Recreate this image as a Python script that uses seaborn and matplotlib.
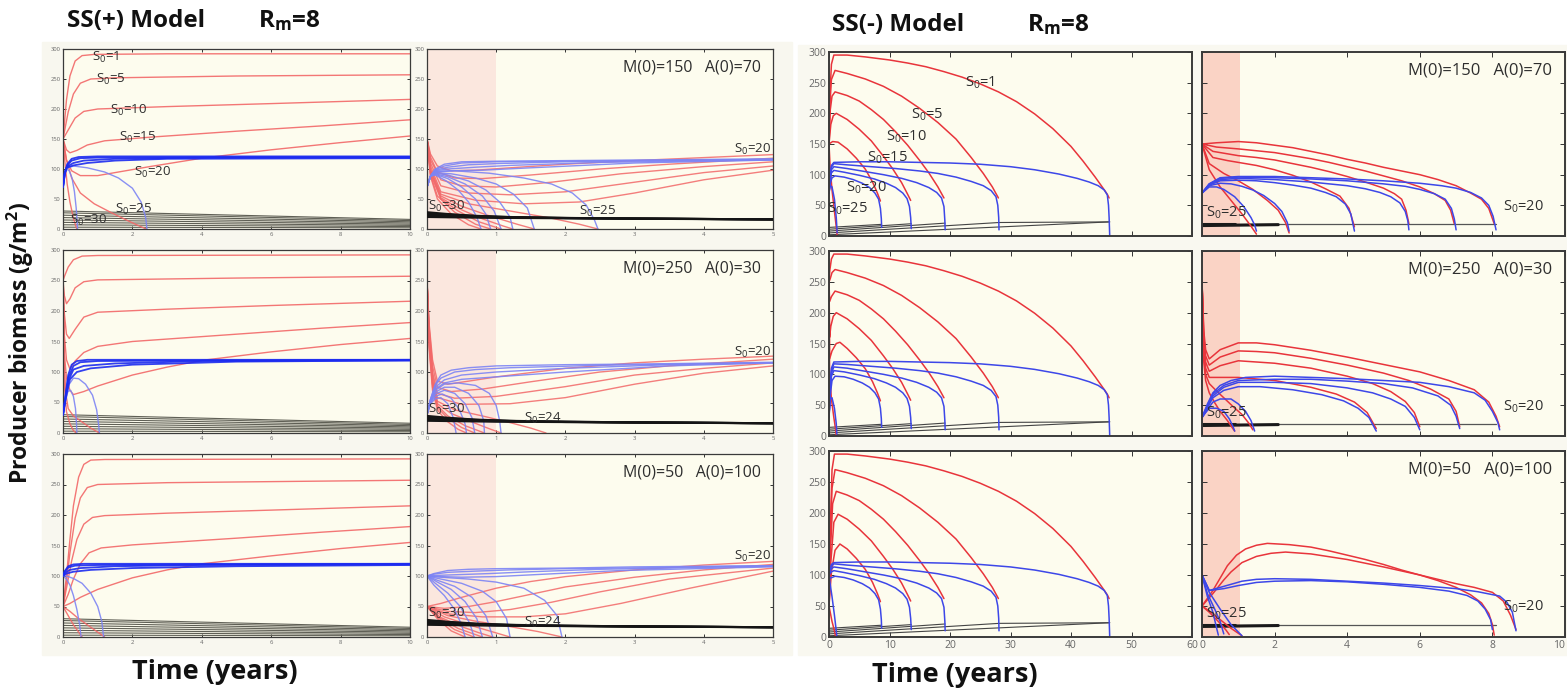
import matplotlib
matplotlib.use("Agg")
import matplotlib.pyplot as plt
from matplotlib.patches import Rectangle
import seaborn as sns
import pandas as pd

# ---------------------------------------------------------------------------
# Trajectories: each run is a list of (time in years, biomass in g/m^2)
# ---------------------------------------------------------------------------

# SS(+) model, M(0)=150, A(0)=70, 10-year view
plus_a_long_red = [
    [(0, 150), (0.1, 215), (0.2, 255), (0.35, 280), (0.55, 289), (0.9, 291), (3, 292), (10, 292)],
    [(0, 150), (0.15, 195), (0.3, 225), (0.5, 243), (0.8, 250), (1.5, 252), (5, 255), (10, 257)],
    [(0, 150), (0.15, 165), (0.35, 185), (0.6, 196), (1, 200), (3, 204), (6, 209), (10, 216)],
    [(0, 150), (0.1, 132), (0.2, 127), (0.4, 131), (0.7, 140), (1.2, 147), (2.5, 153), (5, 163), (7.5, 172), (10, 182)],
    [(0, 150), (0.1, 115), (0.25, 97), (0.5, 89), (1, 89), (1.5, 94), (2.5, 104), (4, 118), (6, 132), (8, 144), (10, 155)],
    [(0, 150), (0.1, 115), (0.25, 85), (0.5, 60), (0.9, 42), (1.4, 27), (1.9, 13), (2.2, 5), (2.4, 0)],
    [(0, 150), (0.05, 115), (0.12, 75), (0.2, 45), (0.3, 18), (0.38, 3), (0.4, 0)],
]
plus_a_long_blue_flat = [
    [(0, 70), (0.05, 90), (0.12, 108), (0.25, 117), (0.45, 120), (1, 121), (10, 121)],
    [(0, 70), (0.05, 92), (0.12, 106), (0.25, 114), (0.5, 118), (1, 119), (10, 120)],
    [(0, 70), (0.05, 93), (0.12, 104), (0.3, 110), (0.6, 114), (1.5, 117), (4, 119), (10, 119)],
    [(0, 70), (0.05, 95), (0.1, 102), (0.3, 106), (0.7, 110), (1.5, 114), (3, 117), (10, 118)],
]
plus_a_long_blue_fall = [
    [(0, 70), (0.05, 95), (0.1, 101), (0.3, 105), (0.7, 102), (1.2, 95), (1.6, 85), (2, 68), (2.25, 45), (2.38, 20), (2.42, 0)],
    [(0, 70), (0.05, 92), (0.1, 100), (0.18, 97), (0.26, 85), (0.33, 62), (0.38, 35), (0.41, 10), (0.42, 0)],
]

# SS(+) model, M(0)=150, A(0)=70, 5-year view
plus_a_short_red = [
    [(0, 150), (0.05, 125), (0.15, 105), (0.35, 97), (0.7, 98), (1.2, 102), (2, 108), (3, 114), (4, 119), (5, 124)],
    [(0, 150), (0.05, 120), (0.15, 95), (0.4, 85), (0.8, 84), (1.5, 90), (2.5, 100), (3.5, 108), (5, 118)],
    [(0, 150), (0.05, 115), (0.2, 82), (0.5, 72), (1, 70), (1.8, 78), (2.8, 92), (4, 104), (5, 112)],
    [(0, 150), (0.05, 110), (0.2, 72), (0.6, 60), (1.2, 57), (2, 62), (3, 78), (4, 94), (5, 105)],
    [(0, 150), (0.05, 105), (0.2, 62), (0.7, 48), (1.4, 42), (2.2, 45), (3, 60), (4, 82), (5, 98)],
    [(0, 150), (0.05, 100), (0.2, 58), (0.6, 42), (1.2, 30), (1.8, 18), (2.2, 8), (2.47, 0)],
    [(0, 150), (0.05, 98), (0.2, 55), (0.5, 38), (0.9, 22), (1.3, 8), (1.55, 0)],
    [(0, 150), (0.05, 95), (0.2, 52), (0.5, 32), (0.8, 17), (1.1, 5), (1.24, 0)],
    [(0, 150), (0.05, 92), (0.2, 50), (0.45, 30), (0.75, 12), (1.07, 0)],
    [(0, 150), (0.05, 90), (0.15, 55), (0.4, 28), (0.7, 8), (0.92, 0)],
    [(0, 150), (0.05, 88), (0.15, 50), (0.35, 25), (0.6, 7), (0.78, 0)],
]
plus_a_short_blue = [
    [(0, 70), (0.05, 88), (0.12, 100), (0.25, 108), (0.5, 112), (1, 113), (2, 114), (3, 115), (5, 117)],
    [(0, 70), (0.05, 88), (0.12, 99), (0.25, 105), (0.5, 110), (1, 112), (2, 113), (5, 116)],
    [(0, 70), (0.05, 88), (0.12, 98), (0.3, 103), (0.6, 107), (1, 109), (2, 112), (5, 116)],
    [(0, 70), (0.05, 88), (0.12, 97), (0.3, 100), (0.7, 103), (1.2, 106), (2.5, 111), (5, 115)],
    [(0, 70), (0.05, 88), (0.12, 96), (0.3, 97), (0.8, 98), (1.5, 102), (3, 110), (5, 115)],
    [(0, 70), (0.05, 88), (0.12, 95), (0.4, 97), (0.9, 93), (1.4, 85), (1.8, 75), (2.1, 60), (2.3, 40), (2.42, 15), (2.47, 0)],
    [(0, 70), (0.05, 88), (0.12, 94), (0.35, 92), (0.7, 85), (1.0, 75), (1.25, 58), (1.45, 35), (1.55, 0)],
    [(0, 70), (0.05, 88), (0.12, 93), (0.3, 90), (0.6, 80), (0.85, 65), (1.05, 45), (1.2, 20), (1.24, 0)],
    [(0, 70), (0.05, 88), (0.12, 92), (0.3, 87), (0.55, 75), (0.8, 55), (0.97, 30), (1.07, 0)],
    [(0, 70), (0.05, 88), (0.12, 91), (0.3, 84), (0.5, 70), (0.7, 50), (0.85, 25), (0.92, 0)],
    [(0, 70), (0.05, 88), (0.12, 90), (0.28, 80), (0.45, 65), (0.6, 45), (0.72, 20), (0.78, 0)],
]

# SS(+) model, M(0)=250, A(0)=30
plus_b_long_red = [
    [(0, 250), (0.05, 258), (0.15, 272), (0.3, 284), (0.55, 290), (1, 291), (10, 292)],
    [(0, 250), (0.04, 225), (0.1, 212), (0.2, 220), (0.35, 238), (0.6, 248), (1, 251), (5, 254), (10, 257)],
    [(0, 250), (0.04, 195), (0.1, 162), (0.18, 155), (0.35, 170), (0.6, 190), (1, 198), (3, 203), (6, 209), (10, 216)],
    [(0, 250), (0.04, 160), (0.1, 120), (0.2, 105), (0.35, 118), (0.6, 132), (1, 142), (2, 150), (5, 162), (7.5, 172), (10, 181)],
    [(0, 250), (0.04, 130), (0.1, 90), (0.2, 70), (0.3, 63), (0.6, 68), (1, 77), (2, 95), (3, 108), (4, 119), (6, 133), (8, 145), (10, 155)],
    [(0, 250), (0.03, 120), (0.08, 65), (0.15, 40), (0.3, 28), (0.55, 18), (0.8, 8), (1.05, 0)],
    [(0, 250), (0.02, 130), (0.05, 70), (0.1, 35), (0.2, 15), (0.3, 4), (0.38, 0)],
]
plus_b_long_blue_flat = [
    [(0, 30), (0.08, 65), (0.15, 95), (0.25, 112), (0.4, 118), (0.7, 120), (10, 120)],
    [(0, 30), (0.08, 62), (0.15, 90), (0.3, 110), (0.5, 116), (1, 118), (10, 120)],
    [(0, 30), (0.08, 60), (0.15, 85), (0.3, 104), (0.6, 110), (1.5, 114), (4, 118), (10, 119)],
    [(0, 30), (0.08, 58), (0.2, 88), (0.4, 100), (0.8, 106), (2, 112), (5, 117), (10, 119)],
]
plus_b_long_blue_fall = [
    [(0, 30), (0.08, 55), (0.18, 80), (0.3, 90), (0.45, 89), (0.65, 80), (0.85, 62), (0.97, 38), (1.03, 12), (1.05, 0)],
    [(0, 30), (0.06, 50), (0.14, 68), (0.22, 70), (0.3, 60), (0.36, 40), (0.39, 15), (0.4, 0)],
]
plus_b_short_red = [
    [(0, 250), (0.03, 180), (0.08, 120), (0.15, 85), (0.3, 80), (0.6, 85), (1, 92), (2, 106), (3, 115), (4, 121), (5, 126)],
    [(0, 250), (0.03, 175), (0.08, 110), (0.15, 75), (0.35, 68), (0.8, 72), (1.5, 84), (2.5, 100), (3.5, 110), (5, 121)],
    [(0, 250), (0.03, 170), (0.08, 100), (0.15, 65), (0.4, 57), (1, 60), (2, 76), (3, 95), (4, 106), (5, 115)],
    [(0, 250), (0.03, 165), (0.08, 95), (0.15, 58), (0.5, 47), (1.2, 48), (2, 58), (3, 80), (4, 98), (5, 110)],
    [(0, 250), (0.03, 160), (0.08, 88), (0.15, 52), (0.4, 38), (0.8, 28), (1.2, 17), (1.5, 8), (1.72, 0)],
    [(0, 250), (0.03, 155), (0.08, 85), (0.15, 48), (0.35, 32), (0.65, 18), (0.9, 7), (1.07, 0)],
    [(0, 250), (0.03, 150), (0.08, 80), (0.15, 45), (0.3, 28), (0.55, 12), (0.83, 0)],
    [(0, 250), (0.03, 145), (0.08, 75), (0.15, 42), (0.3, 24), (0.5, 9), (0.69, 0)],
    [(0, 250), (0.03, 140), (0.08, 70), (0.15, 38), (0.28, 20), (0.45, 6), (0.57, 0)],
]
plus_b_short_blue = [
    [(0, 30), (0.05, 55), (0.12, 80), (0.2, 95), (0.35, 103), (0.6, 107), (1, 110), (2, 112), (3, 113), (5, 116)],
    [(0, 30), (0.05, 55), (0.12, 78), (0.2, 90), (0.4, 100), (0.7, 104), (1.2, 107), (2.5, 111), (5, 115)],
    [(0, 30), (0.05, 54), (0.12, 75), (0.25, 87), (0.5, 95), (1, 100), (2, 106), (3.5, 112), (5, 115)],
    [(0, 30), (0.05, 53), (0.12, 72), (0.25, 82), (0.5, 88), (1, 92), (2, 100), (3.5, 110), (5, 115)],
    [(0, 30), (0.05, 52), (0.12, 70), (0.25, 80), (0.45, 82), (0.7, 78), (0.9, 65), (1.0, 45), (1.05, 20), (1.07, 0)],
    [(0, 30), (0.05, 51), (0.12, 67), (0.25, 75), (0.4, 75), (0.6, 65), (0.75, 45), (0.82, 20), (0.83, 0)],
    [(0, 30), (0.05, 50), (0.12, 64), (0.25, 70), (0.4, 65), (0.55, 48), (0.65, 25), (0.69, 0)],
    [(0, 30), (0.05, 49), (0.12, 60), (0.22, 64), (0.35, 57), (0.47, 38), (0.55, 15), (0.57, 0)],
    [(0, 30), (0.05, 48), (0.12, 56), (0.2, 58), (0.3, 48), (0.38, 25), (0.42, 0)],
]

# SS(+) model, M(0)=50, A(0)=100
plus_c_long_red = [
    [(0, 50), (0.1, 100), (0.2, 160), (0.3, 215), (0.45, 262), (0.6, 283), (0.8, 290), (1.2, 291), (10, 292)],
    [(0, 50), (0.1, 90), (0.2, 138), (0.35, 195), (0.5, 228), (0.7, 245), (1, 250), (3, 253), (10, 257)],
    [(0, 50), (0.1, 80), (0.25, 125), (0.4, 160), (0.6, 185), (0.85, 196), (1.2, 199), (3, 203), (6, 208), (10, 215)],
    [(0, 50), (0.15, 70), (0.3, 95), (0.5, 120), (0.75, 138), (1.1, 146), (2, 151), (5, 162), (7.5, 172), (10, 181)],
    [(0, 50), (0.2, 55), (0.5, 65), (1, 78), (2, 97), (3, 110), (4, 120), (6, 133), (8, 145), (10, 155)],
    [(0, 50), (0.2, 42), (0.45, 30), (0.75, 18), (1.0, 8), (1.2, 0)],
    [(0, 50), (0.15, 35), (0.3, 20), (0.45, 8), (0.55, 0)],
]
plus_c_long_blue_flat = [
    [(0, 100), (0.05, 108), (0.15, 116), (0.3, 119), (0.6, 120), (10, 120)],
    [(0, 100), (0.05, 107), (0.15, 114), (0.35, 117), (1, 118), (10, 120)],
    [(0, 100), (0.08, 106), (0.2, 110), (0.5, 113), (1.5, 116), (4, 118), (10, 119)],
    [(0, 100), (0.1, 104), (0.3, 107), (0.8, 110), (2, 113), (5, 116), (10, 118)],
]
plus_c_long_blue_fall = [
    [(0, 100), (0.1, 100), (0.3, 96), (0.55, 88), (0.8, 72), (1.0, 50), (1.12, 25), (1.17, 0)],
    [(0, 100), (0.1, 95), (0.2, 85), (0.3, 68), (0.4, 45), (0.48, 20), (0.52, 0)],
]
plus_c_short_red = [
    [(0, 50), (0.2, 55), (0.5, 65), (1, 80), (1.5, 91), (2, 99), (3, 110), (4, 118), (5, 124)],
    [(0, 50), (0.25, 47), (0.6, 50), (1, 58), (1.5, 70), (2, 82), (3, 98), (4, 110), (5, 119)],
    [(0, 50), (0.3, 42), (0.7, 40), (1.2, 45), (1.8, 57), (2.5, 74), (3.5, 95), (5, 113)],
    [(0, 50), (0.3, 38), (0.8, 33), (1.4, 33), (2, 38), (2.8, 55), (3.8, 80), (5, 108)],
    [(0, 50), (0.3, 35), (0.7, 26), (1.2, 17), (1.6, 9), (1.95, 0)],
    [(0, 50), (0.25, 33), (0.6, 20), (0.9, 10), (1.2, 0)],
    [(0, 50), (0.2, 32), (0.5, 17), (0.75, 7), (0.95, 0)],
    [(0, 50), (0.2, 30), (0.45, 14), (0.8, 0)],
    [(0, 50), (0.15, 32), (0.4, 12), (0.68, 0)],
    [(0, 50), (0.15, 30), (0.35, 10), (0.55, 0)],
]
plus_c_short_blue = [
    [(0, 100), (0.1, 104), (0.3, 109), (0.6, 111), (1, 112), (2, 113), (3, 115), (5, 117)],
    [(0, 100), (0.1, 103), (0.3, 106), (0.7, 108), (1.2, 110), (2, 112), (3.5, 114), (5, 117)],
    [(0, 100), (0.15, 101), (0.4, 102), (0.9, 104), (1.5, 107), (2.5, 111), (5, 116)],
    [(0, 100), (0.2, 99), (0.5, 98), (1, 99), (1.7, 103), (2.8, 109), (5, 115)],
    [(0, 100), (0.2, 98), (0.6, 95), (1, 90), (1.4, 80), (1.7, 60), (1.88, 35), (1.95, 0)],
    [(0, 100), (0.2, 95), (0.5, 88), (0.8, 75), (1.0, 58), (1.15, 30), (1.2, 0)],
    [(0, 100), (0.15, 93), (0.4, 83), (0.65, 65), (0.85, 35), (0.95, 0)],
    [(0, 100), (0.15, 90), (0.35, 78), (0.55, 58), (0.72, 30), (0.8, 0)],
    [(0, 100), (0.12, 88), (0.3, 72), (0.48, 50), (0.62, 22), (0.68, 0)],
    [(0, 100), (0.1, 85), (0.25, 68), (0.4, 45), (0.5, 20), (0.55, 0)],
]

# Bottom tracks of the SS(+) runs
plus_long_black = [
    [(0, 30), (10, 16)], [(0, 27), (10, 14)], [(0, 23), (10, 12)], [(0, 19), (10, 10)],
    [(0, 15), (10, 8)], [(0, 11), (10, 6)], [(0, 7), (10, 4)], [(0, 3), (10, 2)],
]
plus_short_black = [
    [(0, 28), (0.3, 25), (0.7, 22), (1.2, 20), (2, 18.5), (3, 17.5), (5, 16)],
    [(0, 26), (0.3, 24), (0.8, 21), (1.5, 19), (3, 17), (5, 16)],
    [(0, 24), (0.4, 22), (1, 20), (2, 18), (5, 16)],
    [(0, 22), (0.5, 20.5), (1.2, 19), (5, 16)],
    [(0, 20), (1, 18.5), (5, 16)],
]

# SS(-) model, M(0)=150, A(0)=70, 60-year view
minus_a_long_red = [
    [(0, 150), (0.15, 230), (0.4, 280), (0.8, 295), (3, 295), (6, 292), (10, 287), (13, 282), (16, 276), (19, 268), (22, 259),
     (25, 248), (28, 235), (31, 219), (34, 199), (37, 175), (40, 146), (42, 122), (44, 96), (45.3, 78), (46, 68), (46.3, 62)],
    [(0, 150), (0.15, 215), (0.4, 255), (1, 270), (3, 265), (6, 256), (9, 244), (12, 228), (15, 208), (18, 185), (21, 158),
     (23.5, 128), (25.5, 102), (27, 80), (28, 62)],
    [(0, 150), (0.2, 205), (0.5, 228), (1, 235), (3, 229), (5, 220), (7, 206), (9, 190), (11, 170), (13, 148), (15, 123),
     (16.5, 103), (18, 80), (19, 62)],
    [(0, 150), (0.3, 182), (0.7, 196), (1.2, 200), (3, 190), (5, 174), (7, 155), (9, 130), (10.5, 110), (12, 87), (13, 68), (13.5, 58)],
    [(0, 150), (0.6, 154), (1.5, 153), (3, 142), (4.5, 127), (6, 109), (7.2, 88), (8, 70), (8.5, 57)],
    [(0, 150), (0.2, 110), (0.5, 75), (0.9, 40), (1.2, 15), (1.35, 0)],
]
minus_a_long_blue = [
    [(0, 70), (0.15, 95), (0.4, 115), (0.8, 120), (5, 121), (10, 121), (15, 120), (20, 119), (25, 117), (30, 113), (34, 108),
     (38, 101), (41, 94), (43, 88), (44.5, 82), (45.5, 75), (46, 67), (46.2, 50), (46.3, 30), (46.4, 0)],
    [(0, 70), (0.15, 93), (0.4, 112), (0.8, 118), (3, 116), (7, 113), (11, 110), (15, 106), (18, 102), (21, 96), (23.5, 89),
     (25.5, 82), (26.8, 74), (27.6, 64), (27.9, 50), (28.05, 30), (28.1, 10)],
    [(0, 70), (0.15, 90), (0.4, 108), (0.8, 113), (3, 110), (6, 105), (9, 100), (12, 94), (14.5, 87), (16.5, 79), (17.8, 71),
     (18.6, 62), (19, 48), (19.15, 25), (19.2, 10)],
    [(0, 70), (0.15, 88), (0.4, 103), (0.8, 107), (2.5, 104), (5, 99), (7.5, 93), (9.5, 86), (11, 79), (12.2, 70), (12.9, 61),
     (13.3, 48), (13.5, 30), (13.6, 12)],
    [(0, 70), (0.15, 84), (0.5, 95), (1, 98), (2.5, 96), (4, 92), (5.5, 86), (6.7, 79), (7.6, 70), (8.2, 60), (8.5, 45),
     (8.65, 28), (8.7, 14)],
    [(0, 70), (0.2, 82), (0.5, 80), (0.9, 60), (1.2, 30), (1.35, 5)],
]

# SS(-) model, M(0)=150, A(0)=70, 10-year view
minus_a_short_red = [
    [(0, 150), (0.4, 152), (1, 154), (1.5, 152), (2, 148), (2.5, 144), (3, 138), (3.5, 132), (4, 125), (4.5, 119), (5, 112),
     (5.5, 106), (6, 100), (6.5, 92), (7, 82), (7.4, 70), (7.7, 60), (7.9, 45), (8.05, 20)],
    [(0, 150), (0.4, 145), (1, 142), (1.5, 139), (2, 136), (2.5, 131), (3, 126), (3.5, 120), (4, 113), (4.5, 106), (5, 98),
     (5.5, 90), (6, 80), (6.4, 69), (6.7, 58), (6.85, 42), (6.95, 20)],
    [(0, 150), (0.3, 138), (1, 131), (1.5, 128), (2, 124), (2.5, 118), (3, 112), (3.5, 105), (4, 97), (4.5, 88), (5, 78),
     (5.3, 69), (5.5, 60), (5.62, 42), (5.7, 20)],
    [(0, 150), (0.3, 128), (0.7, 123), (1, 120), (1.5, 115), (2, 108), (2.5, 99), (3, 88), (3.4, 77), (3.8, 65), (4.05, 45), (4.2, 15)],
    [(0, 150), (0.2, 118), (0.6, 102), (1, 90), (1.4, 76), (1.8, 58), (2.1, 42), (2.3, 22), (2.4, 5)],
    [(0, 150), (0.2, 108), (0.5, 80), (0.8, 58), (1.1, 36), (1.35, 16), (1.5, 3)],
]
minus_a_short_blue = [
    [(0, 70), (0.2, 85), (0.5, 95), (1, 97), (2, 97), (3, 95), (4, 93), (5, 90), (6, 86), (6.6, 82), (7, 78), (7.4, 71),
     (7.7, 62), (7.9, 50), (8.02, 32), (8.1, 10)],
    [(0, 70), (0.2, 85), (0.5, 94), (1, 96), (2, 95), (3, 93), (4, 90), (5, 85), (5.6, 81), (6, 76), (6.4, 69), (6.7, 60),
     (6.87, 45), (6.95, 28), (7, 10)],
    [(0, 70), (0.2, 84), (0.5, 92), (1, 94), (2, 92), (3, 88), (4, 82), (4.5, 77), (4.9, 71), (5.2, 64), (5.45, 54),
     (5.6, 40), (5.67, 25), (5.7, 10)],
    [(0, 70), (0.2, 83), (0.5, 90), (1, 91), (1.5, 90), (2, 87), (2.5, 83), (3, 78), (3.4, 71), (3.7, 64), (3.95, 52),
     (4.1, 36), (4.2, 8)],
    [(0, 70), (0.2, 82), (0.5, 86), (0.8, 85), (1.1, 81), (1.4, 75), (1.7, 66), (2, 53), (2.2, 40), (2.35, 22), (2.4, 8)],
    [(0, 70), (0.2, 80), (0.4, 80), (0.6, 76), (0.9, 64), (1.15, 48), (1.35, 30), (1.45, 18), (1.5, 8)],
]

# SS(-) model, M(0)=250, A(0)=30
minus_b_long_red = [
    [(0, 250), (0.15, 270), (0.4, 287), (0.8, 295), (3, 295), (6, 292), (10, 287), (13, 282), (16, 276), (19, 268), (22, 259),
     (25, 248), (28, 235), (31, 219), (34, 199), (37, 175), (40, 146), (42, 122), (44, 96), (45.3, 78), (46, 68), (46.3, 62)],
    [(0, 250), (0.2, 255), (0.5, 265), (1, 270), (3, 265), (6, 256), (9, 244), (12, 228), (15, 208), (18, 185), (21, 158),
     (23.5, 128), (25.5, 102), (27, 80), (28, 62)],
    [(0, 250), (0.1, 218), (0.4, 226), (1, 235), (3, 229), (5, 220), (7, 206), (9, 190), (11, 170), (13, 148), (15, 123),
     (16.5, 103), (18, 80), (19, 62)],
    [(0, 250), (0.1, 160), (0.3, 178), (0.7, 194), (1.2, 200), (3, 190), (5, 174), (7, 155), (9, 130), (10.5, 110), (12, 87),
     (13, 68), (13.5, 58)],
    [(0, 250), (0.1, 125), (0.5, 138), (1.2, 150), (1.8, 152), (3, 142), (4.5, 127), (6, 109), (7.2, 88), (8, 70), (8.5, 57)],
    [(0, 250), (0.1, 100), (0.4, 60), (0.8, 30), (1.1, 10), (1.2, 0)],
]
minus_b_long_blue = [
    [(0, 30), (0.15, 75), (0.4, 110), (0.8, 120), (5, 121), (10, 121), (15, 120), (20, 119), (25, 117), (30, 113), (34, 108),
     (38, 101), (41, 94), (43, 88), (44.5, 82), (45.5, 75), (46, 67), (46.2, 50), (46.3, 30), (46.4, 0)],
    [(0, 30), (0.15, 72), (0.4, 106), (0.8, 117), (3, 116), (7, 113), (11, 110), (15, 106), (18, 102), (21, 96), (23.5, 89),
     (25.5, 82), (26.8, 74), (27.6, 64), (27.9, 50), (28.05, 30), (28.1, 10)],
    [(0, 30), (0.15, 70), (0.4, 102), (0.8, 112), (3, 110), (6, 105), (9, 100), (12, 94), (14.5, 87), (16.5, 79), (17.8, 71),
     (18.6, 62), (19, 48), (19.15, 25), (19.2, 10)],
    [(0, 30), (0.15, 67), (0.4, 97), (0.8, 106), (2.5, 104), (5, 99), (7.5, 93), (9.5, 86), (11, 79), (12.2, 70), (12.9, 61),
     (13.3, 48), (13.5, 30), (13.6, 12)],
    [(0, 30), (0.15, 62), (0.5, 90), (1, 97), (2.5, 96), (4, 92), (5.5, 86), (6.7, 79), (7.6, 70), (8.2, 60), (8.5, 45),
     (8.65, 28), (8.7, 14)],
    [(0, 30), (0.2, 60), (0.5, 62), (0.9, 45), (1.2, 20), (1.3, 3)],
]
minus_b_short_red = [
    [(0, 250), (0.05, 170), (0.1, 140), (0.2, 125), (0.5, 140), (1, 151), (1.5, 151), (2, 148), (3, 139), (4, 128), (5, 116),
     (6, 104), (6.8, 90), (7.5, 75), (7.9, 55), (8.1, 32), (8.2, 15)],
    [(0, 250), (0.05, 160), (0.1, 130), (0.2, 115), (0.5, 128), (1, 138), (1.5, 137), (2, 135), (3, 126), (4, 115), (5, 102),
     (5.7, 90), (6.3, 76), (6.8, 60), (7.0, 40), (7.1, 15)],
    [(0, 250), (0.05, 150), (0.1, 120), (0.2, 105), (0.5, 114), (1, 122), (2, 118), (3, 110), (4, 97), (4.7, 85), (5.2, 72),
     (5.6, 56), (5.85, 38), (6, 15)],
    [(0, 250), (0.05, 140), (0.1, 110), (0.2, 95), (0.6, 95), (1, 95), (2, 90), (3, 79), (3.7, 68), (4.2, 55), (4.55, 38), (4.8, 12)],
    [(0, 250), (0.05, 130), (0.1, 100), (0.2, 85), (0.4, 73), (0.6, 62), (0.85, 48), (1.1, 35), (1.3, 20), (1.4, 10)],
    [(0, 250), (0.05, 120), (0.1, 90), (0.2, 70), (0.35, 54), (0.5, 40), (0.7, 25), (0.85, 12), (0.9, 8)],
]
minus_b_short_blue = [
    [(0, 30), (0.15, 52), (0.3, 70), (0.5, 82), (0.8, 90), (1.2, 95), (2, 97), (3, 95), (4, 93), (5, 90), (6, 87), (6.8, 80),
     (7.5, 70), (7.8, 58), (8, 40), (8.15, 22), (8.2, 10)],
    [(0, 30), (0.15, 50), (0.3, 68), (0.6, 82), (1, 90), (2, 92), (3, 92), (4, 89), (5, 85), (5.8, 78), (6.5, 65),
     (6.85, 50), (7.0, 32), (7.1, 12)],
    [(0, 30), (0.15, 48), (0.3, 65), (0.6, 79), (1, 87), (2, 87), (3, 85), (4, 78), (4.7, 70), (5.2, 60), (5.6, 48),
     (5.85, 30), (6, 10)],
    [(0, 30), (0.15, 46), (0.3, 62), (0.6, 74), (1, 80), (1.6, 80), (2.5, 75), (3.3, 67), (3.9, 57), (4.3, 45), (4.6, 30), (4.8, 8)],
    [(0, 30), (0.15, 43), (0.3, 55), (0.5, 60), (0.8, 60), (1, 52), (1.2, 40), (1.35, 25), (1.45, 8)],
    [(0, 30), (0.1, 38), (0.2, 45), (0.4, 45), (0.6, 40), (0.75, 28), (0.85, 16), (0.9, 8)],
]

# SS(-) model, M(0)=50, A(0)=100
minus_c_long_red = [
    [(0, 50), (0.2, 170), (0.5, 270), (0.9, 295), (3, 295), (6, 292), (10, 287), (13, 282), (16, 276), (19, 268), (22, 259),
     (25, 248), (28, 235), (31, 219), (34, 199), (37, 175), (40, 146), (42, 122), (44, 96), (45.3, 78), (46, 68), (46.3, 62)],
    [(0, 50), (0.2, 150), (0.5, 240), (1, 270), (3, 265), (6, 256), (9, 244), (12, 228), (15, 208), (18, 185), (21, 158),
     (23.5, 128), (25.5, 102), (27, 80), (28, 62)],
    [(0, 50), (0.2, 130), (0.6, 215), (1.2, 235), (3, 229), (5, 220), (7, 206), (9, 190), (11, 170), (13, 148), (15, 123),
     (16.5, 103), (18, 80), (19, 62)],
    [(0, 50), (0.3, 120), (0.8, 185), (1.5, 198), (3, 190), (5, 174), (7, 155), (9, 130), (10.5, 110), (12, 87), (13, 68), (13.5, 58)],
    [(0, 50), (0.4, 105), (1, 140), (1.8, 150), (3, 142), (4.5, 127), (6, 109), (7.2, 88), (8, 70), (8.5, 57)],
    [(0, 50), (0.2, 40), (0.5, 25), (0.9, 10), (1.1, 0)],
]
minus_c_long_blue = [
    [(0, 100), (0.15, 110), (0.4, 117), (0.8, 120), (5, 121), (10, 121), (15, 120), (20, 119), (25, 117), (30, 113), (34, 108),
     (38, 101), (41, 94), (43, 88), (44.5, 82), (45.5, 75), (46, 67), (46.2, 50), (46.3, 30), (46.4, 0)],
    [(0, 100), (0.15, 108), (0.4, 114), (0.8, 118), (3, 116), (7, 113), (11, 110), (15, 106), (18, 102), (21, 96), (23.5, 89),
     (25.5, 82), (26.8, 74), (27.6, 64), (27.9, 50), (28.05, 30), (28.1, 10)],
    [(0, 100), (0.15, 105), (0.4, 110), (0.8, 113), (3, 110), (6, 105), (9, 100), (12, 94), (14.5, 87), (16.5, 79), (17.8, 71),
     (18.6, 62), (19, 48), (19.15, 25), (19.2, 10)],
    [(0, 100), (0.15, 102), (0.4, 105), (0.8, 107), (2.5, 104), (5, 99), (7.5, 93), (9.5, 86), (11, 79), (12.2, 70), (12.9, 61),
     (13.3, 48), (13.5, 30), (13.6, 12)],
    [(0, 100), (0.15, 95), (0.5, 96), (1, 98), (2.5, 96), (4, 92), (5.5, 86), (6.7, 79), (7.6, 70), (8.2, 60), (8.5, 45),
     (8.65, 28), (8.7, 14)],
    [(0, 100), (0.2, 85), (0.5, 65), (0.9, 35), (1.2, 10), (1.3, 0)],
]
minus_c_short_red = [
    [(0, 50), (0.3, 75), (0.5, 95), (0.7, 115), (0.95, 132), (1.2, 142), (1.5, 148), (1.8, 151), (2.4, 149), (3, 145), (3.5, 139),
     (4, 132), (4.5, 125), (5, 117), (5.5, 108), (6, 100), (6.5, 93), (7, 86), (7.5, 80), (8, 72), (8.3, 58), (8.5, 35), (8.65, 12)],
    [(0, 50), (0.3, 70), (0.6, 92), (0.8, 105), (1.1, 120), (1.5, 130), (1.9, 135), (2.3, 137), (3, 134), (4, 125), (5, 113),
     (6, 100), (6.5, 91), (7, 80), (7.4, 68), (7.7, 55), (7.9, 38), (8, 20), (8.05, 3)],
    [(0, 50), (0.2, 40), (0.45, 25), (0.65, 12), (0.75, 4)],
    [(0, 50), (0.2, 42), (0.5, 28), (0.8, 14), (1.1, 2)],
]
minus_c_short_blue = [
    [(0, 100), (0.2, 75), (0.5, 80), (0.8, 85), (1.1, 90), (1.5, 93), (2, 94), (3, 93), (4, 90), (5, 87), (6, 83), (7, 78),
     (7.6, 73), (8.2, 66), (8.4, 56), (8.55, 40), (8.65, 10)],
    [(0, 100), (0.2, 75), (0.6, 78), (1, 83), (1.5, 88), (2, 90), (3, 91), (4, 89), (5, 85), (6, 80), (6.8, 74), (7.3, 67),
     (7.6, 58), (7.8, 45), (7.95, 28), (8, 12)],
    [(0, 100), (0.15, 70), (0.35, 45), (0.5, 25), (0.6, 5)],
    [(0, 100), (0.2, 72), (0.5, 45), (0.8, 20), (1.1, 2)],
    [(0, 100), (0.15, 65), (0.3, 40), (0.4, 15), (0.45, 3)],
]

# Bottom tracks of the SS(-) runs
minus_long_black = [
    [(0, 2), (46.4, 23)],
    [(0, 5), (28.1, 22), (46.4, 23)],
    [(0, 8), (19.2, 21)],
    [(0, 11), (13.6, 20)],
    [(0, 14), (8.7, 19)],
]
minus_short_black = [
    [(0, 20), (8.1, 20)],
]
minus_short_black_thick = [
    [(0, 19), (0.9, 19)],
    [(0, 17), (2.1, 18.5)],
]

# ---------------------------------------------------------------------------
# Styling
# ---------------------------------------------------------------------------
sns.set_theme(style="ticks")
plt.rcParams["font.family"] = ["Open Sans", "DejaVu Sans"]
plt.rcParams["mathtext.fontset"] = "custom"
plt.rcParams["mathtext.rm"] = "Open Sans"
plt.rcParams["mathtext.it"] = "Open Sans:italic"
plt.rcParams["mathtext.bf"] = "Open Sans:bold"
plt.rcParams["mathtext.default"] = "regular"

W, H = 1567, 691
fig = plt.figure(figsize=(W / 100, H / 100), dpi=100)
fig.patch.set_facecolor("white")

FACE = "#fdfcee"
RED_P, BLUE_P, BLUE_P_DARK = "#f26868", "#7d84f4", "#1c2bf0"
RED_M, BLUE_M = "#e8343b", "#3d47e8"
TEXT = "#2e2e2e"


def px_axes(x0, y0, x1, y1):
    return fig.add_axes([x0 / W, 1 - y1 / H, (x1 - x0) / W, (y1 - y0) / H])


def draw(ax, runs, color, lw, alpha=1.0, z=2):
    rows = [(i, t, y) for i, run in enumerate(runs) for t, y in run]
    df = pd.DataFrame(rows, columns=["run", "t", "y"])
    sns.lineplot(data=df, x="t", y="y", units="run", estimator=None, sort=False,
                 color=color, lw=lw, alpha=alpha, ax=ax, legend=False, zorder=z)


def frame(ax, xmax, xticks, small, show_x=True, show_y=True, shade=None):
    ax.set_facecolor(FACE)
    ax.set_xlim(0, xmax)
    ax.set_ylim(0, 300)
    ax.set_xticks(xticks)
    ax.set_yticks(range(0, 301, 50))
    fs = 4.2 if small else 7.5
    ax.tick_params(direction="in", top=True, right=True, length=2.5 if small else 3.5,
                   width=0.7, labelsize=fs, labelcolor="#666666", color="#333333", pad=2)
    if not show_x:
        ax.tick_params(labelbottom=False)
    if not show_y:
        ax.tick_params(labelleft=False)
    for s in ax.spines.values():
        s.set_color("#3a3a3a")
        s.set_linewidth(0.9 if small else 1.4)
    if shade is not None:
        ax.axvspan(0, shade[0], color=shade[1], lw=0, zorder=0)


def s0(ax, x, y, val, size=9.5, ha="left"):
    ax.text(x, y, r"$S_0$=" + str(val), fontsize=size, color=TEXT, ha=ha, va="center", zorder=5)


def ic(ax, text, size=11.5):
    ax.text(0.965, 0.9, text, transform=ax.transAxes, fontsize=size, color=TEXT,
            ha="right", va="center", zorder=5)


# light backdrops behind each group of panels
fig.patches.append(Rectangle((42 / W, 1 - 655 / H), 750 / W, 613 / H, transform=fig.transFigure,
                             color="#f8f7ef", zorder=-10))
fig.patches.append(Rectangle((798 / W, 1 - 655 / H), 769 / W, 610 / H, transform=fig.transFigure,
                             color="#f9f8f0", zorder=-10))

# ---------------------------------------------------------------------------
# SS(+) group
# ---------------------------------------------------------------------------
rows_p = [(49, 229), (250, 433), (454, 637)]
long_p = [(plus_a_long_red, plus_a_long_blue_flat, plus_a_long_blue_fall),
          (plus_b_long_red, plus_b_long_blue_flat, plus_b_long_blue_fall),
          (plus_c_long_red, plus_c_long_blue_flat, plus_c_long_blue_fall)]
short_p = [(plus_a_short_red, plus_a_short_blue),
           (plus_b_short_red, plus_b_short_blue),
           (plus_c_short_red, plus_c_short_blue)]
ic_text = ["M(0)=150   A(0)=70", "M(0)=250   A(0)=30", "M(0)=50   A(0)=100"]

for r, (y0, y1) in enumerate(rows_p):
    ax = px_axes(63, y0, 410, y1)
    red, bflat, bfall = long_p[r]
    draw(ax, plus_long_black, "#5f5f55", 0.8)
    draw(ax, red, RED_P, 1.0, 0.9)
    draw(ax, bfall, BLUE_P, 1.0, 0.9)
    draw(ax, bflat, BLUE_P_DARK, 1.3, 0.9, z=3)
    frame(ax, 10, range(0, 11, 2), small=True)
    if r == 0:
        s0(ax, 0.85, 286, 1)
        s0(ax, 0.95, 250, 5)
        s0(ax, 1.35, 197, 10)
        s0(ax, 1.6, 152, 15)
        s0(ax, 2.05, 95, 20)
        s0(ax, 1.5, 33, 25)
        s0(ax, 0.2, 14, 30)

    ax2 = px_axes(427, y0, 773, y1)
    red, blue = short_p[r]
    draw(ax2, red, RED_P, 1.0, 0.85)
    draw(ax2, blue, BLUE_P, 1.0, 0.9)
    draw(ax2, plus_short_black, "#151515", 1.5, z=4)
    frame(ax2, 5, range(0, 6), small=True, shade=(1, "#fbe7de"))
    ic(ax2, ic_text[r])
    s0(ax2, 4.97, 132, 20, ha="right")
    s0(ax2, 0.02, 38, 30)
    s0(ax2, 2.2 if r == 0 else 1.4, 30 if r == 0 else 24, 25 if r == 0 else 24)

# ---------------------------------------------------------------------------
# SS(-) group
# ---------------------------------------------------------------------------
rows_m = [(52, 236), (251, 436), (451, 637)]
long_m = [(minus_a_long_red, minus_a_long_blue),
          (minus_b_long_red, minus_b_long_blue),
          (minus_c_long_red, minus_c_long_blue)]
short_m = [(minus_a_short_red, minus_a_short_blue),
           (minus_b_short_red, minus_b_short_blue),
           (minus_c_short_red, minus_c_short_blue)]

for r, (y0, y1) in enumerate(rows_m):
    last = r == 2
    ax = px_axes(829, y0, 1192, y1)
    red, blue = long_m[r]
    draw(ax, minus_long_black, "#444444", 0.8)
    draw(ax, red, RED_M, 1.1)
    draw(ax, blue, BLUE_M, 1.1)
    frame(ax, 60, range(0, 61, 10), small=False, show_x=last)
    if r == 0:
        s0(ax, 22.5, 249, 1, size=10.5)
        s0(ax, 13.5, 197, 5, size=10.5)
        s0(ax, 9.4, 162, 10, size=10.5)
        s0(ax, 6.2, 128, 15, size=10.5)
        s0(ax, 2.8, 78, 20, size=10.5)
        s0(ax, -0.4, 44, 25, size=10.5)

    ax2 = px_axes(1202, y0, 1565, y1)
    red, blue = short_m[r]
    draw(ax2, minus_short_black, "#555555", 0.9)
    draw(ax2, minus_short_black_thick, "#1a1a1a", 2.2)
    draw(ax2, red, RED_M, 1.1)
    draw(ax2, blue, BLUE_M, 1.1)
    frame(ax2, 10, range(0, 11, 2), small=False, show_x=last, show_y=False,
          shade=(1.05, "#fad3c5"))
    ic(ax2, ic_text[r], size=12)
    s0(ax2, 0.1, 38, 25, size=10.5)
    s0(ax2, 8.3, 48, 20, size=10.5)
    if last:
        fig.canvas.draw()
        ax2.get_xticklabels()[-1].set_horizontalalignment("right")

for a in fig.axes:
    a.set_xlabel("")
    a.set_ylabel("")

# ---------------------------------------------------------------------------
# Group titles and shared axis labels
# ---------------------------------------------------------------------------
def ftext(x, y, s, **kw):
    fig.text(x / W, 1 - y / H, s, **kw)


ftext(67, 21, "SS(+) Model", fontsize=17.5, fontweight="bold", color="#111111", va="center")
ftext(258, 21, r"R$_\mathbf{m}$=8", fontsize=17.5, fontweight="bold", color="#111111", va="center")
ftext(832, 25, "SS(-) Model", fontsize=17.5, fontweight="bold", color="#111111", va="center")
ftext(1027, 25, r"R$_\mathbf{m}$=8", fontsize=17.5, fontweight="bold", color="#111111", va="center")
ftext(20, 343, r"Producer biomass (g/m$^\mathbf{2}$)", fontsize=16.5, fontweight="bold",
      color="#111111", rotation=90, ha="center", va="center")
ftext(215, 672, "Time (years)", fontsize=19.5, fontweight="bold", color="#111111",
      ha="center", va="center")
ftext(955, 675, "Time (years)", fontsize=19.5, fontweight="bold", color="#111111",
      ha="center", va="center")

fig.savefig("out.png", dpi=100, facecolor="white")
